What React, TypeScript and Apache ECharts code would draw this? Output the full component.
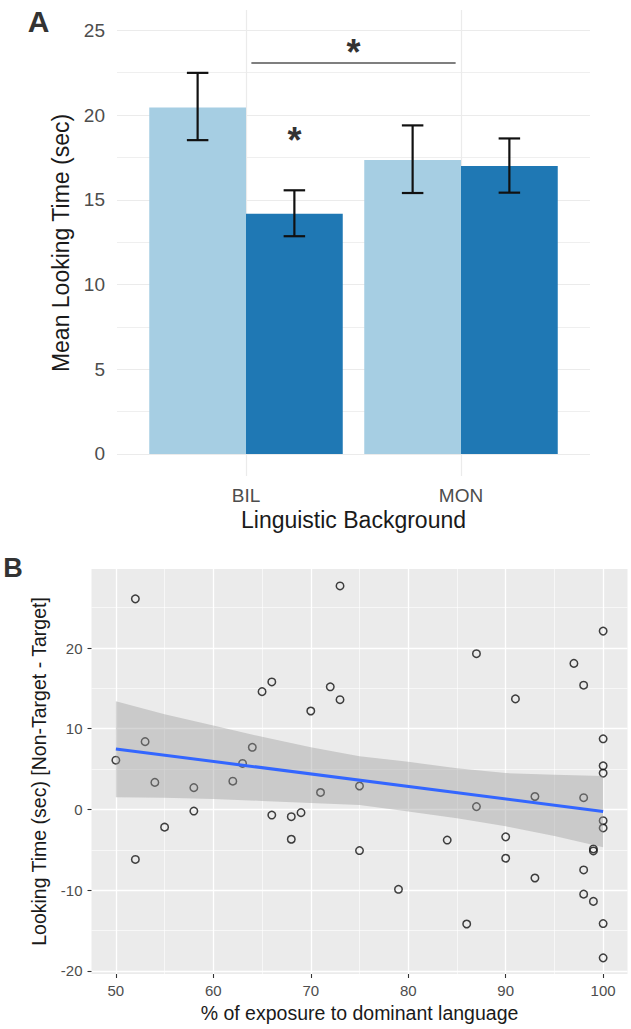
import { useEffect, useRef } from "react";
import * as echarts from "echarts";

// ---------- Panel A data ----------
const categories = ["BIL", "MON"];
const categoryPos = [1, 2];
const lightMeans = [20.45, 17.35];
const lightLow = [18.52, 15.4];
const lightHigh = [22.49, 19.39];
const darkMeans = [14.17, 17.0];
const darkLow = [12.85, 15.42];
const darkHigh = [15.56, 18.62];
const barMajorTicks = [0, 5, 10, 15, 20, 25];
const barMinorTicks = [2.5, 7.5, 12.5, 17.5, 22.5];
const sigBracket = [1.025, 1.975, 23.07];
const sigStars = [
  [1.5, 23.7],
  [1.225, 18.5],
];

// ---------- Panel B data ----------
const exposure = [
  50, 52, 52, 53, 54, 55, 58, 58, 62, 63, 64, 65, 66, 66, 68, 68, 69, 70, 71, 72,
  73, 73, 75, 75, 79, 84, 86, 87, 87, 90, 90, 91, 93, 93, 97, 98, 98, 98, 98, 99,
  99, 99, 100, 100, 100, 100, 100, 100, 100, 100,
];
const lookingDiff = [
  6.1, 26.1, -6.2, 8.4, 3.35, -2.2, 2.7, -0.2, 3.5, 5.7, 7.7, 14.6, 15.8, -0.7,
  -0.9, -3.7, -0.4, 12.2, 2.1, 15.2, 27.7, 13.6, 2.9, -5.1, -9.9, -3.8, -14.2,
  19.3, 0.35, -3.4, -6.05, 13.7, 1.6, -8.5, 18.1, 15.4, 1.45, -7.5, -10.5, -4.9,
  -5.15, -11.4, 22.1, 8.75, 5.4, 4.5, -1.4, -2.3, -14.15, -18.4,
];
const bandX = [50, 55, 60, 65, 70, 75, 80, 85, 90, 95, 100];
const bandUpper = [13.4, 11.8, 10.4, 9.0, 7.7, 6.6, 5.9, 5.1, 4.5, 4.3, 4.15];
const bandLower = [1.5, 1.45, 1.3, 1.05, 0.8, 0.55, -0.25, -1.1, -2.1, -3.3, -4.7];
const fitX = [50, 100];
const fitY = [7.5, -0.25];
const scatterXMajor = [50, 60, 70, 80, 90, 100];
const scatterXMinor = [55, 65, 75, 85, 95];
const scatterYMajor = [-20, -10, 0, 10, 20];
const scatterYMinor = [-15, -5, 5, 15, 25];

const FONT = "Liberation Sans, Arial, Helvetica, sans-serif";

export default function App() {
  const ref = useRef<HTMLDivElement>(null);

  useEffect(() => {
    if (!ref.current) return;
    const chart = echarts.init(ref.current, undefined, { renderer: "svg" });

    const errData: number[][] = [];
    categoryPos.forEach((c, i) => {
      errData.push([c - 0.225, lightLow[i], lightHigh[i]]);
      errData.push([c + 0.225, darkLow[i], darkHigh[i]]);
    });

    const noLine = { show: false, onZero: false };
    const hiddenAxisBase = {
      axisLine: noLine,
      axisLabel: { show: false },
    };

    const option: any = {
      animation: false,
      backgroundColor: "#ffffff",
      textStyle: { fontFamily: FONT },
      grid: [
        { left: 117, top: 10, width: 473, height: 466 },
        { left: 91.5, top: 569, width: 536, height: 405 },
      ],
      xAxis: [
        {
          gridIndex: 0,
          type: "value",
          min: 0.4,
          max: 2.6,
          axisLine: noLine,
          axisTick: { show: false, customValues: categoryPos },
          axisLabel: {
            customValues: categoryPos,
            formatter: (v: number) => categories[categoryPos.indexOf(v)] ?? "",
            color: "#4d4d4d",
            fontSize: 19,
            margin: 10,
            fontFamily: FONT,
          },
          splitLine: { show: true, lineStyle: { color: "#ebebeb", width: 1.2 } },
          name: "Linguistic Background",
          nameLocation: "middle",
          nameGap: 32,
          nameTextStyle: { fontSize: 23, color: "#1a1a1a", fontFamily: FONT },
        },
        {
          gridIndex: 1,
          type: "value",
          min: 47.5,
          max: 102.5,
          axisLine: noLine,
          axisTick: {
            show: true,
            length: 4,
            customValues: scatterXMajor,
            lineStyle: { color: "#333333", width: 1.1 },
          },
          axisLabel: {
            customValues: scatterXMajor,
            color: "#4d4d4d",
            fontSize: 15,
            margin: 9,
            fontFamily: FONT,
          },
          splitLine: { show: true, lineStyle: { color: "#ffffff", width: 1.3 } },
          name: "% of exposure to dominant language",
          nameLocation: "middle",
          nameGap: 29,
          nameTextStyle: { fontSize: 19.5, color: "#1a1a1a", fontFamily: FONT },
        },
        {
          gridIndex: 1,
          type: "value",
          min: 47.5,
          max: 102.5,
          ...hiddenAxisBase,
          axisTick: { show: false, customValues: scatterXMinor },
          splitLine: { show: true, lineStyle: { color: "#ffffff", width: 0.6 } },
        },
      ],
      yAxis: [
        {
          gridIndex: 0,
          type: "value",
          min: -1.3,
          max: 26.2,
          axisLine: noLine,
          axisTick: { show: false, customValues: barMajorTicks },
          axisLabel: {
            customValues: barMajorTicks,
            color: "#4d4d4d",
            fontSize: 19,
            margin: 12,
            fontFamily: FONT,
          },
          splitLine: { show: true, lineStyle: { color: "#ebebeb", width: 1.2 } },
          name: "Mean Looking Time (sec)",
          nameLocation: "middle",
          nameGap: 43,
          nameTextStyle: { fontSize: 23, color: "#1a1a1a", fontFamily: FONT },
        },
        {
          gridIndex: 0,
          type: "value",
          min: -1.3,
          max: 26.2,
          ...hiddenAxisBase,
          axisTick: { show: false, customValues: barMinorTicks },
          splitLine: { show: true, lineStyle: { color: "#ebebeb", width: 0.8 } },
        },
        {
          gridIndex: 1,
          type: "value",
          min: -20.4,
          max: 29.8,
          axisLine: noLine,
          axisTick: {
            show: true,
            length: 4,
            customValues: scatterYMajor,
            lineStyle: { color: "#333333", width: 1.1 },
          },
          axisLabel: {
            customValues: scatterYMajor,
            color: "#4d4d4d",
            fontSize: 15,
            margin: 9,
            fontFamily: FONT,
          },
          splitLine: { show: true, lineStyle: { color: "#ffffff", width: 1.3 } },
          name: "Looking Time (sec) [Non-Target - Target]",
          nameLocation: "middle",
          nameGap: 43,
          nameTextStyle: { fontSize: 19.5, color: "#1a1a1a", fontFamily: FONT },
        },
        {
          gridIndex: 1,
          type: "value",
          min: -20.4,
          max: 29.8,
          ...hiddenAxisBase,
          axisTick: { show: false, customValues: scatterYMinor },
          splitLine: { show: true, lineStyle: { color: "#ffffff", width: 0.6 } },
        },
      ],
      graphic: [
        {
          type: "rect",
          z: -10,
          shape: { x: 91.5, y: 569, width: 536, height: 405 },
          style: { fill: "#ebebeb" },
          silent: true,
        },
        {
          type: "text",
          x: 38.5,
          y: 21,
          style: {
            text: "A",
            font: `bold 30px ${FONT}`,
            fill: "#333333",
            align: "center",
            verticalAlign: "middle",
            textAlign: "center",
            textVerticalAlign: "middle",
          },
        },
        {
          type: "text",
          x: 13,
          y: 568,
          style: {
            text: "B",
            font: `bold 27px ${FONT}`,
            fill: "#333333",
            align: "center",
            verticalAlign: "middle",
            textAlign: "center",
            textVerticalAlign: "middle",
          },
        },
      ],
      series: [
        {
          name: "Light",
          type: "bar",
          xAxisIndex: 0,
          yAxisIndex: 0,
          barWidth: "45%",
          barGap: "0%",
          itemStyle: { color: "#a6cee3" },
          data: categoryPos.map((c, i) => [c, lightMeans[i]]),
          z: 2,
        },
        {
          name: "Dark",
          type: "bar",
          xAxisIndex: 0,
          yAxisIndex: 0,
          barWidth: "45%",
          barGap: "0%",
          itemStyle: { color: "#1f78b4" },
          data: categoryPos.map((c, i) => [c, darkMeans[i]]),
          z: 2,
        },
        {
          type: "custom",
          xAxisIndex: 0,
          yAxisIndex: 0,
          z: 5,
          data: errData,
          renderItem: (_p: any, api: any) => {
            const x = api.value(0);
            const lo = api.coord([x, api.value(1)]);
            const hi = api.coord([x, api.value(2)]);
            const half = api.size([0.05, 0])[0];
            const st = { stroke: "#111111", lineWidth: 2.2 };
            return {
              type: "group",
              children: [
                { type: "line", shape: { x1: hi[0], y1: hi[1], x2: lo[0], y2: lo[1] }, style: st },
                { type: "line", shape: { x1: hi[0] - half, y1: hi[1], x2: hi[0] + half, y2: hi[1] }, style: st },
                { type: "line", shape: { x1: lo[0] - half, y1: lo[1], x2: lo[0] + half, y2: lo[1] }, style: st },
              ],
            };
          },
        },
        {
          type: "custom",
          xAxisIndex: 0,
          yAxisIndex: 0,
          z: 5,
          data: [sigBracket],
          renderItem: (_p: any, api: any) => {
            const a = api.coord([api.value(0), api.value(2)]);
            const b = api.coord([api.value(1), api.value(2)]);
            return {
              type: "line",
              shape: { x1: a[0], y1: a[1], x2: b[0], y2: b[1] },
              style: { stroke: "#555555", lineWidth: 1.6 },
            };
          },
        },
        {
          type: "custom",
          xAxisIndex: 0,
          yAxisIndex: 0,
          z: 5,
          data: sigStars,
          renderItem: (_p: any, api: any) => {
            const p = api.coord([api.value(0), api.value(1)]);
            return {
              type: "text",
              x: p[0],
              y: p[1],
              style: {
                text: "*",
                font: `bold 36px ${FONT}`,
                fill: "#333333",
                align: "center",
                verticalAlign: "middle",
                textAlign: "center",
                textVerticalAlign: "middle",
              },
            };
          },
        },
        {
          type: "scatter",
          xAxisIndex: 1,
          yAxisIndex: 2,
          symbol: "circle",
          symbolSize: 7.5,
          itemStyle: { color: "rgba(0,0,0,0)", borderColor: "#111111", borderWidth: 1.5 },
          data: exposure.map((x, i) => [x, lookingDiff[i]]),
          z: 2,
        },
        {
          type: "custom",
          xAxisIndex: 1,
          yAxisIndex: 2,
          z: 3,
          data: bandX.map((x, i) => [x, bandLower[i], bandUpper[i]]),
          renderItem: (params: any, api: any) => {
            if (params.dataIndex !== 0) return null;
            const pts: number[][] = [];
            bandX.forEach((x, i) => pts.push(api.coord([x, bandUpper[i]])));
            for (let i = bandX.length - 1; i >= 0; i--) pts.push(api.coord([bandX[i], bandLower[i]]));
            return {
              type: "polygon",
              shape: { points: pts },
              style: { fill: "rgba(153,153,153,0.4)" },
            };
          },
        },
        {
          type: "line",
          xAxisIndex: 1,
          yAxisIndex: 2,
          showSymbol: false,
          symbol: "none",
          z: 4,
          lineStyle: { color: "#3366ff", width: 3 },
          data: fitX.map((x, i) => [x, fitY[i]]),
        },
      ],
    };

    chart.setOption(option);
    return () => chart.dispose();
  }, []);

  return (
    <div
      ref={ref}
      style={{ position: "fixed", left: 0, top: 0, width: 631, height: 1029, background: "#fff" }}
    />
  );
}
